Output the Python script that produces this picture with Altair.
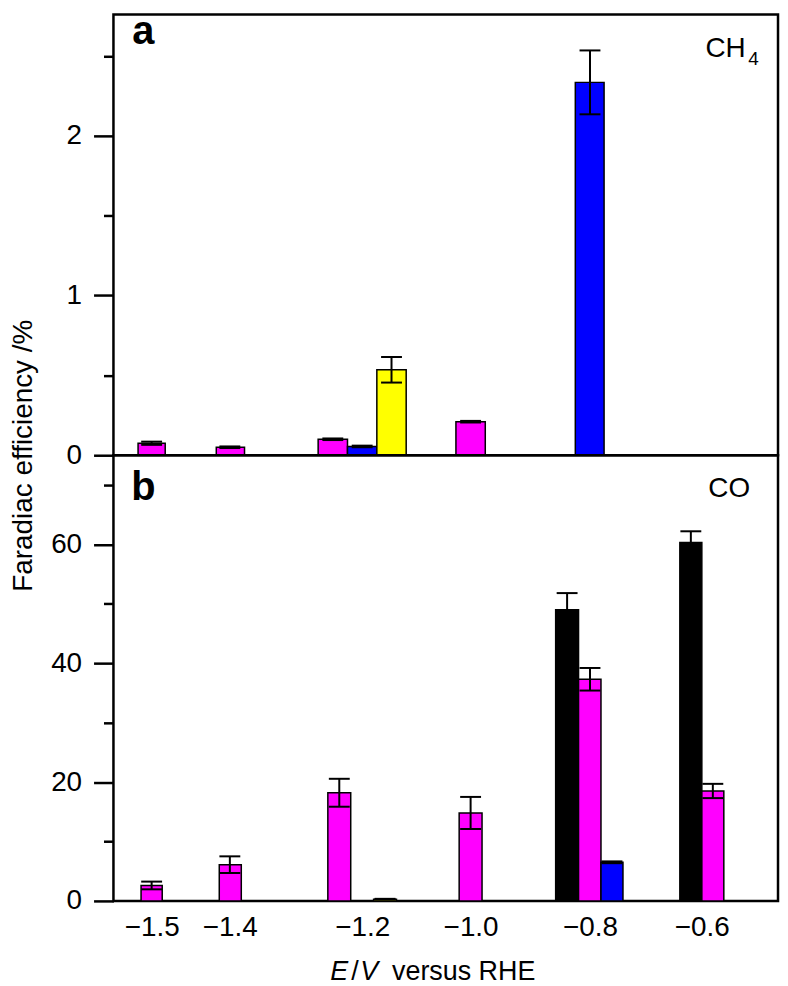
import altair as alt
import pandas as pd

FONT = "Liberation Sans"

# ---- data ----
potentials = [-1.5, -1.4, -1.2, -1.0, -0.8, -0.6]
series_names = ["S1", "S2", "S3", "S4"]
series_colors = ["#000000", "#FF00FF", "#0000FF", "#FFFF00"]

# panel a: CH4 faradaic efficiency (%)
ch4_E = [-1.5, -1.4, -1.2, -1.2, -1.2, -1.0, -0.8]
ch4_series = ["S2", "S2", "S2", "S3", "S4", "S2", "S3"]
ch4_fe = [0.075, 0.05, 0.10, 0.055, 0.535, 0.21, 2.335]
ch4_err = [0.01, 0.005, 0.005, 0.005, 0.08, 0.005, 0.2]

# panel b: CO faradaic efficiency (%)
co_E = [-1.5, -1.4, -1.2, -1.2, -1.2, -1.0, -0.8, -0.8, -0.8, -0.6, -0.6]
co_series = ["S2", "S2", "S2", "S3", "S4", "S2", "S1", "S2", "S3", "S1", "S2"]
co_fe = [2.6, 6.1, 18.2, 0.0, 0.3, 14.8, 49.0, 37.3, 6.5, 60.3, 18.5]
co_err = [0.65, 1.4, 2.35, 0.0, 0.05, 2.7, 2.8, 1.9, 0.15, 1.9, 1.2]

ch4_ticks = [0, 0.5, 1, 1.5, 2, 2.5]
co_ticks = [0, 10, 20, 30, 40, 50, 60, 70]

# ---- layout ----
W = 668
HA = 443
HB = 448
BW_A = 29.5
BW_B = 23
X_RANGE = [32, 117, 250, 359, 479, 596]   # piecewise x scale (uneven axis as in the figure)


def to_px(v):
    for i in range(len(potentials) - 1):
        if v <= potentials[i + 1] or i == len(potentials) - 2:
            d0, d1 = potentials[i], potentials[i + 1]
            r0, r1 = X_RANGE[i], X_RANGE[i + 1]
            return r0 + (v - d0) * (r1 - r0) / (d1 - d0)


def from_px(p):
    for i in range(len(X_RANGE) - 1):
        if p <= X_RANGE[i + 1] or i == len(X_RANGE) - 2:
            d0, d1 = potentials[i], potentials[i + 1]
            r0, r1 = X_RANGE[i], X_RANGE[i + 1]
            return d0 + (p - r0) * (d1 - d0) / (r1 - r0)


def build(E, s, fe, err, bw):
    df = pd.DataFrame({"E": E, "series": s, "fe": fe, "err": err})
    df["idx"] = df.groupby("E").cumcount()
    df["n"] = df.groupby("E")["E"].transform("size")
    off = (df["idx"] - (df["n"] - 1) / 2) * bw
    centre = [to_px(e) + o for e, o in zip(df["E"], off)]
    df["xc"] = [from_px(c) for c in centre]
    df["x0"] = [from_px(c - bw / 2) for c in centre]
    df["x1"] = [from_px(c + bw / 2) for c in centre]
    df["lo"] = df["fe"] - df["err"]
    df["hi"] = df["fe"] + df["err"]
    return df


xscale = alt.Scale(type="linear", domain=potentials, range=X_RANGE)
cscale = alt.Scale(domain=series_names, range=series_colors)


def text_layer(txt, x, y, size, weight="normal", style="normal", align="left"):
    return alt.Chart(pd.DataFrame({"t": [txt]})).mark_text(
        font=FONT, fontSize=size, fontWeight=weight, fontStyle=style,
        align=align, baseline="alphabetic", color="black"
    ).encode(text="t:N", x=alt.value(x), y=alt.value(y))


def panel(df, yscale, yaxis, xaxis, height, texts):
    base = alt.Chart(df)
    bars = base.mark_bar(stroke="black", strokeWidth=1.5, orient="vertical").encode(
        x=alt.X("x0:Q", scale=xscale, axis=xaxis), x2="x1:Q",
        y=alt.Y("fe:Q", scale=yscale, axis=yaxis, stack=None), y2=alt.datum(0),
        color=alt.Color("series:N", scale=cscale, legend=None),
    )
    eb = alt.Chart(df[df["err"] > 0])
    X = alt.X("xc:Q", scale=xscale, axis=xaxis)
    rules = eb.mark_rule(color="black", strokeWidth=2).encode(
        x=X, y=alt.Y("lo:Q", scale=yscale, axis=yaxis), y2="hi:Q",
    )
    cap_hi = eb.mark_tick(orient="horizontal", size=21, thickness=2, color="black", opacity=1).encode(
        x=X, y=alt.Y("hi:Q", scale=yscale, axis=yaxis)
    )
    cap_lo = eb.mark_tick(orient="horizontal", size=21, thickness=2, color="black", opacity=1).encode(
        x=X, y=alt.Y("lo:Q", scale=yscale, axis=yaxis)
    )
    return alt.layer(bars, rules, cap_hi, cap_lo, *texts).properties(width=W, height=height)


df_a = build(ch4_E, ch4_series, ch4_fe, ch4_err, BW_A)
df_b = build(co_E, co_series, co_fe, co_err, BW_B)

yaxis_a = alt.Axis(
    values=ch4_ticks,
    labelExpr="datum.value % 1 == 0 ? format(datum.value, 'd') : ''",
    tickSize={"condition": {"test": "datum.value % 1 != 0", "value": 10}, "value": 20},
    title=None, grid=False, domain=False, labelPadding=12,
)
yaxis_b = alt.Axis(
    values=co_ticks,
    labelExpr="datum.value % 20 == 0 ? format(datum.value, 'd') : ''",
    tickSize={"condition": {"test": "datum.value % 20 != 0", "value": 10}, "value": 20},
    title="Faradiac efficiency /%", titleFontSize=28, titleFontWeight="normal",
    titleY=0, titleAlign="center", titleAngle=270, titlePadding=13,
    grid=False, domain=False, labelPadding=12,
)
xaxis_b = alt.Axis(
    values=potentials, format=".1f", tickSize=0, labelPadding=13, labelFlush=False,
    title=None, grid=False, domain=False,
)

texts_a = [
    text_layer("a", 19, 30, 40, weight="bold"),
    text_layer("CH", 595, 43, 28),
    text_layer("4", 638, 51, 19),
]
texts_b = [
    text_layer("b", 18, 45, 40, weight="bold"),
    text_layer("CO", 598, 42, 28),
    text_layer("E", 218, 527, 27, style="italic"),
    text_layer("/", 239, 527, 27),
    text_layer("V", 248, 527, 27, style="italic"),
    text_layer("versus RHE", 280, 527, 27),
]

panel_a = panel(df_a, alt.Scale(domain=[0, 2.76], nice=False), yaxis_a, None, HA, texts_a)
panel_b = panel(df_b, alt.Scale(domain=[0, 75], nice=False), yaxis_b, xaxis_b, HB, texts_b)

chart = alt.vconcat(panel_a, panel_b, spacing=0, bounds="flush").properties(
    padding={"left": 0, "top": 0, "right": 0, "bottom": 0}
).configure_view(
    stroke="black", strokeWidth=2.5
).configure_axis(
    labelFont=FONT, labelFontSize=28, labelColor="black",
    titleFont=FONT, titleColor="black",
    tickColor="black", tickWidth=2.5,
).configure_text(font=FONT)

chart.save("out.html", embed_options={"renderer": "svg", "actions": False})
